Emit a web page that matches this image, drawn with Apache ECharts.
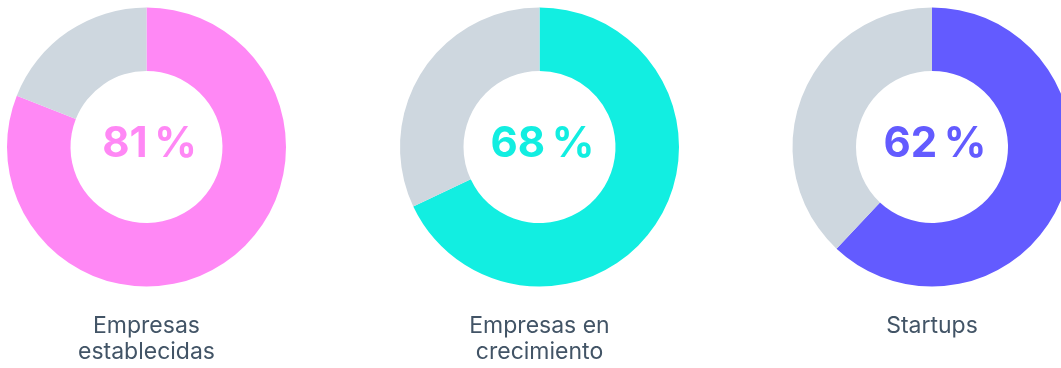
<!DOCTYPE html>
<html>
<head>
<meta charset="utf-8">
<script src="https://cdn.jsdelivr.net/npm/echarts@6/dist/echarts.min.js"></script>
<style>
html,body{margin:0;padding:0;background:#ffffff;}
#chart{width:1061px;height:368px;}
</style>
</head>
<body>
<div id="chart"></div>
<script>
const categories = ['Empresas\nestablecidas', 'Empresas en\ncrecimiento', 'Startups'];
const percentages = [81, 68, 62];
const restLabel = 'Resto';

const mainColors = ['#FF88F5', '#12EEE1', '#635BFF'];
const restColor = '#CED7DF';
const centersX = [146.5, 539.5, 932];
const centerY = 147;

const chart = echarts.init(document.getElementById('chart'), null, {renderer: 'canvas'});

const series = percentages.map((p, i) => ({
  type: 'pie',
  center: [centersX[i], centerY],
  radius: [76, 139.5],
  startAngle: 90,
  clockwise: true,
  silent: true,
  animation: false,
  avoidLabelOverlap: false,
  labelLine: {show: false},
  itemStyle: {borderWidth: 0},
  emphasis: {disabled: true},
  data: [
    {
      value: p,
      name: categories[i],
      itemStyle: {color: mainColors[i]},
      label: {
        show: true,
        position: 'center',
        formatter: '{c}\u202F%',
        color: mainColors[i],
        fontFamily: 'Inter',
        fontWeight: 700,
        fontSize: 42,
        offset: [3, -3]
      }
    },
    {
      value: 100 - p,
      name: restLabel,
      itemStyle: {color: restColor},
      label: {show: false}
    }
  ]
}));

const titles = categories.map((c, i) => ({
  text: c,
  left: centersX[i],
  top: 313,
  textAlign: 'center',
  padding: 0,
  textStyle: {
    color: '#425466',
    fontFamily: 'Inter',
    fontWeight: 400,
    fontSize: 23,
    lineHeight: 26
  }
}));

chart.setOption({
  backgroundColor: '#ffffff',
  animation: false,
  title: titles,
  series: series
});
</script>
</body>
</html>
